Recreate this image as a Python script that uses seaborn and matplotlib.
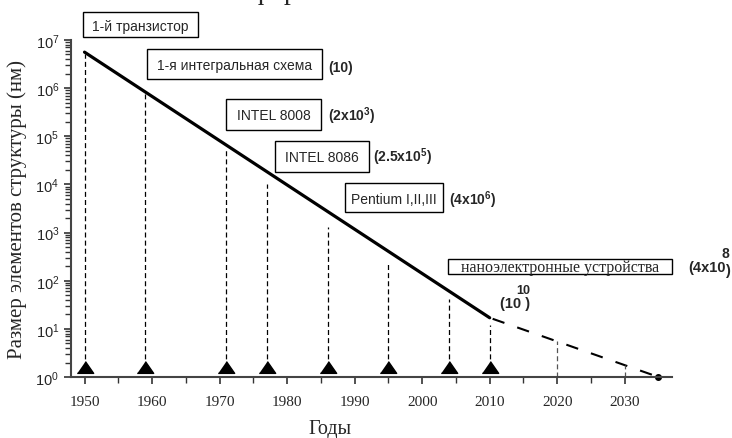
import numpy as np
import pandas as pd
import matplotlib
matplotlib.use('Agg')
import matplotlib.pyplot as plt
import seaborn as sns
from matplotlib.patches import Rectangle
from matplotlib.ticker import FixedLocator, NullFormatter

# основная линия (закон Мура) и прогноз
trend_years = [1950, 2010]
trend_size = [5.6e6, 17]
forecast_years = [2010, 2035]
forecast_size = [17, 1.0]

# вехи: год, верх пунктирной линии
milestone_years = [1950, 1959, 1971, 1977, 1986, 1995, 2004, 2010]
milestone_top = [5.2e6, 7.6e5, 5.5e4, 1.0e4, 1.3e3, 2.2e2, 42, 12]
marker_level = 1.65

future_years = [2020, 2030]
future_top = [5.6, 1.8]

x_ticks = [1950, 1960, 1970, 1980, 1990, 2000, 2010, 2020, 2030]
decades = [0, 1, 2, 3, 4, 5, 6, 7]

W, H = 732, 439


def px(x, y):
    return x / W, 1 - y / H


sns.set_style('ticks')
plt.rcParams['font.family'] = ['Liberation Sans', 'DejaVu Sans']
plt.rcParams['mathtext.fontset'] = 'custom'
plt.rcParams['mathtext.rm'] = 'Liberation Sans'
plt.rcParams['mathtext.bf'] = 'Liberation Sans:bold'

fig = plt.figure(figsize=(W / 100, H / 100), dpi=100)
ax = fig.add_axes([71 / W, 1 - 378 / H, (672 - 71) / W, (378 - 41) / H])

df_trend = pd.DataFrame({'year': trend_years, 'size': trend_size})
df_fc = pd.DataFrame({'year': forecast_years, 'size': forecast_size})
df_ms = pd.DataFrame({'year': milestone_years, 'level': marker_level})

sns.lineplot(data=df_trend, x='year', y='size', color='black', lw=2.3, ax=ax)
sns.lineplot(data=df_fc, x='year', y='size', color='black', lw=1.5, ax=ax,
             dashes=False)
ax.lines[-1].set_dashes([0, 1.5, 6, 5])
ax.plot(forecast_years[-1], forecast_size[-1], 'o', color='black', ms=4, clip_on=False)

ax.vlines(milestone_years, marker_level, milestone_top, colors='black',
          lw=0.9, linestyles=(0, (4, 2.5)))
ax.vlines(future_years, 1, future_top, colors='#555555',
          lw=0.9, linestyles=(0, (4, 2.5)))

tri = [(-1, -0.72), (1, -0.72), (0, 0.72)]
sns.scatterplot(data=df_ms, x='year', y='level', marker=tri, s=140,
                color='black', edgecolor='black', ax=ax, zorder=5, clip_on=False)

ax.set_yscale('log')
ax.set_ylim(1, 1e7)
ax.set_xlim(1948, 2037)
ax.xaxis.set_major_locator(FixedLocator(x_ticks))
ax.xaxis.set_minor_locator(FixedLocator([y + 5 for y in x_ticks[:-1]]))
ax.yaxis.set_major_locator(FixedLocator([10.0 ** d for d in decades]))
ax.yaxis.set_minor_locator(FixedLocator([m * 10.0 ** d for d in decades[:-1]
                                         for m in range(2, 10)]))
ax.yaxis.set_minor_formatter(NullFormatter())

for s in ['top', 'right']:
    ax.spines[s].set_visible(False)
for s in ['left', 'bottom']:
    ax.spines[s].set_color('#444444')
    ax.spines[s].set_linewidth(1.5)

ax.tick_params(axis='both', which='major', direction='out', length=5, width=1.2,
               color='#333333')
ax.tick_params(axis='both', which='minor', direction='out', length=4, width=1,
               color='#333333')
ax.tick_params(axis='y', labelsize=10.5)
ax.tick_params(axis='x', labelsize=11, pad=8)
for lab in ax.get_xticklabels():
    lab.set_family('Liberation Serif')

ax.set_xlabel('Годы', fontsize=14.5, family='Liberation Serif')
ax.set_ylabel('Размер элементов структуры (нм)', fontsize=15,
              family='Liberation Serif')
ax.xaxis.set_label_coords((330 - 71) / 601, -0.125)
ax.yaxis.set_label_coords(-0.074, 0.5)

# подписи в рамках
boxes = [
    ('1-й транзистор', (83, 13, 198, 38), 'Liberation Sans', 10),
    ('1-я интегральная схема', (147, 50, 322, 80), 'Liberation Sans', 10),
    ('INTEL 8008', (226, 100, 321, 131), 'Liberation Sans', 10),
    ('INTEL 8086', (275, 142, 369, 173), 'Liberation Sans', 10),
    ('Pentium I,II,III', (345, 184, 443, 213), 'Liberation Sans', 10),
    ('наноэлектронные устройства', (448, 260, 672, 275), 'Liberation Serif', 11.5),
]
for text, (x0, y0, x1, y1), fam, fs in boxes:
    fig.add_artist(Rectangle(px(x0, y1), (x1 - x0) / W, (y1 - y0) / H,
                             transform=fig.transFigure, fill=False,
                             edgecolor='black', lw=1))
    fig.text(*px((x0 + x1) / 2, (y0 + y1) / 2 + 1), text, family=fam,
             fontsize=fs, ha='center', va='center')

notes = [
    ('(10)', (328, 68)),
    (r'(2x10$^{\mathbf{3}}$)', (328, 116)),
    (r'(2.5x10$^{\mathbf{5}}$)', (373, 157)),
    (r'(4x10$^{\mathbf{6}}$)', (449, 200)),
]
for text, (x, y) in notes:
    fig.text(*px(x, y), text, fontsize=10, fontweight='bold', ha='left',
             va='center')

fig.text(*px(688, 268), '(4x10', fontsize=10.5, fontweight='bold', ha='left', va='center')
fig.text(*px(722, 254), '8', fontsize=10, fontweight='bold', ha='left', va='center')
fig.text(*px(725, 271), ')', fontsize=10.5, fontweight='bold', ha='left', va='center')
fig.text(*px(500, 304), '(10 )', fontsize=10.5, fontweight='bold', ha='left', va='center')
fig.text(*px(516, 291), '10', fontsize=9, fontweight='bold', ha='left', va='center')

# обрезанный заголовок сверху
fig.text(*px(252, -1), 'ф  р', fontsize=20, family='Liberation Serif',
         ha='left', va='baseline')

fig.savefig('out.png', dpi=100)
